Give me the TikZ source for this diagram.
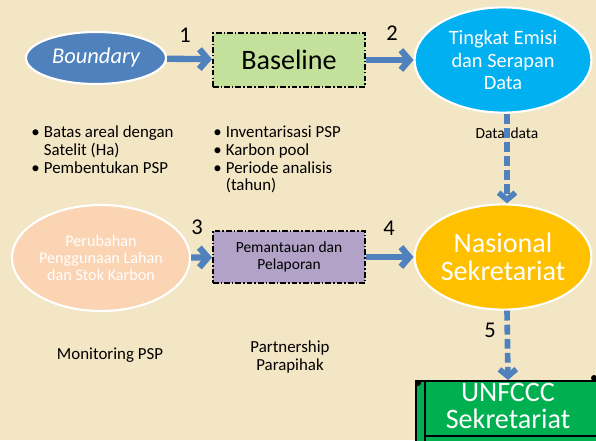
\documentclass[tikz,border=0pt]{standalone}
\usepackage{fontspec}
\setmainfont{Carlito}
\usepackage{xcolor}
\usetikzlibrary{shapes.geometric,arrows.meta}

\definecolor{bgtan}{RGB}{243,230,197}
\definecolor{arrblue}{RGB}{79,129,189}
\definecolor{bndblue}{RGB}{79,129,189}
\definecolor{basegreen}{RGB}{195,225,155}
\definecolor{emicyan}{RGB}{0,176,240}
\definecolor{perpeach}{RGB}{251,212,180}
\definecolor{pemlilac}{RGB}{178,162,199}
\definecolor{nasgold}{RGB}{255,192,0}
\definecolor{unfgreen}{RGB}{0,176,80}

\begin{document}
\begin{tikzpicture}[x=0.025cm,y=-0.025cm,
  blob/.style={ellipse,draw=white,line width=1.5pt,text=white,align=center,inner sep=0pt},
  dashbox/.style={rectangle,draw=black,line width=1.4pt,dash pattern=on 4pt off 1.5pt on 1pt off 1.5pt,
    minimum width=3.8cm,align=center,inner sep=0pt},
  flow/.style={draw=arrblue,line width=4.5pt,-{Straight Barb[length=6pt,width=14pt]}},
  dflow/.style={draw=arrblue,line width=4pt,dash pattern=on 7pt off 3pt,-{Straight Barb[length=5pt,width=12pt]}},
  num/.style={font=\fontsize{16}{16}\selectfont},
  note/.style={font=\fontsize{12}{12.6}\selectfont,align=center,inner sep=0pt}]
\clip (0,0) rectangle (596,440);
\fill[bgtan] (0,0) rectangle (596,440);

% top row
\node[blob,fill=bndblue,minimum width=3.5cm,minimum height=1.3cm,
  font=\fontsize{16}{16}\selectfont\itshape] (bnd) at (96,58) {Boundary};
\node[dashbox,fill=basegreen,minimum height=1.33cm,font=\fontsize{20}{20}\selectfont] (base) at (289,60) {Baseline};
\node[blob,fill=emicyan,minimum width=4.42cm,minimum height=2.63cm,
  font=\fontsize{14.5}{15.8}\selectfont] (emi) at (503,60) {Tingkat Emisi\\dan Serapan\\Data};
\draw[flow] (bnd) -- (base);
\draw[flow] (base) -- (emi);
\node[num] (n1) at (185,35) {1};
\node[num] (n2) at (392,33) {2};

% bullet lists
\node[anchor=north west,inner sep=0pt,font=\fontsize{12}{12.6}\selectfont] (lstA) at (31,125)
  {\begin{tabular}{@{}l@{\hspace{3pt}}l@{}}
   \textbullet & Batas areal dengan\\
               & Satelit (Ha)\\
   \textbullet & Pembentukan PSP
   \end{tabular}};
\node[anchor=north west,inner sep=0pt,font=\fontsize{12}{12.6}\selectfont] (lstB) at (213,125)
  {\begin{tabular}{@{}l@{\hspace{3pt}}l@{}}
   \textbullet & Inventarisasi PSP\\
   \textbullet & Karbon pool\\
   \textbullet & Periode analisis\\
               & (tahun)
   \end{tabular}};

% middle row
\node[blob,fill=perpeach,minimum width=4.45cm,minimum height=2.65cm,
  font=\fontsize{11.5}{12.4}\selectfont] (per) at (101,258) {Perubahan\\Penggunaan Lahan\\dan Stok Karbon};
\node[dashbox,fill=pemlilac,minimum height=1.3cm,font=\fontsize{11}{12.6}\selectfont] (pem) at (289,257) {Pemantauan dan\\Pelaporan};
\node[blob,fill=nasgold,minimum width=4.42cm,minimum height=2.63cm,
  font=\fontsize{20}{19.5}\selectfont] (nas) at (503,257) {Nasional\\Sekretariat};
\draw[flow] (per) -- (pem);
\draw[flow] (pem) -- (nas);
\node[num] (n3) at (197,227) {3};
\node[num] (n4) at (389,228) {4};

\draw[dflow] ([xshift=0.1cm]emi.south) -- ([xshift=0.1cm]nas.north);
\node[note,font=\fontsize{11}{12}\selectfont] (dat) at (507,133) {Data\hspace{4pt}data};

% bottom
\node[note] (mon) at (110,355) {Monitoring PSP};
\node[note] (prt) at (290,357) {Partnership\\Parapihak};

% scroll
\filldraw[fill=unfgreen,draw=black,line width=1.6pt] (416,381) rectangle (610,450);
\draw[black,line width=1.6pt] (425,381) -- (425,450);
\draw[black,line width=1.6pt] (425,436) -- (610,436);
\fill[black] (418,383) circle (3);
\fill[black] (594,378) circle (3);
\node[text=white,align=center,font=\fontsize{20}{19.5}\selectfont,inner sep=2pt] (unf) at (508,406) {UNFCCC\\Sekretariat};
\draw[dflow] ([xshift=0.1cm]nas.south) -- (unf.north);
\node[num] (n5) at (490,330) {5};
\end{tikzpicture}
\end{document}
